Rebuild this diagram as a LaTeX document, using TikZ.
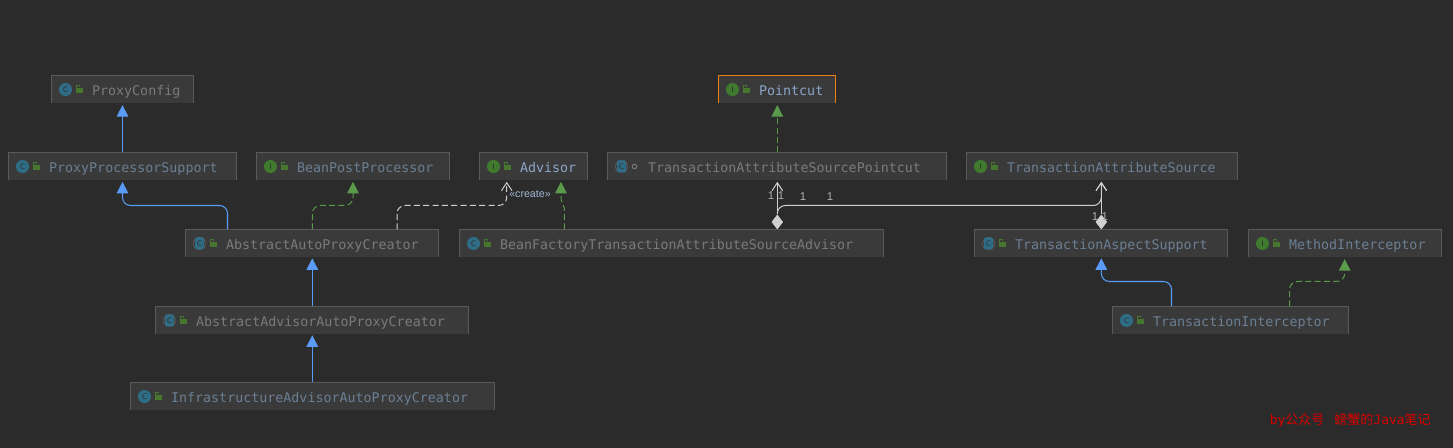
\documentclass[tikz,border=0pt]{standalone}
\usepackage{fontspec}
\setmainfont{Liberation Sans}
\setmonofont{DejaVu Sans Mono}
\newfontfamily\cjkf{Noto Sans CJK SC}
\usetikzlibrary{arrows.meta,calc,shapes.geometric}
\definecolor{bgc}{HTML}{2B2B2B}
\definecolor{boxc}{HTML}{3A3A3A}
\definecolor{edgec}{HTML}{5A5A5A}
\definecolor{blueL}{HTML}{5A9BF5}
\definecolor{greenL}{HTML}{5B9A4B}
\definecolor{whiteL}{HTML}{D0D0D0}
\definecolor{txtA}{HTML}{6B7F94}
\definecolor{txtG}{HTML}{7A7A7A}
\definecolor{txtB}{HTML}{8AA6C8}
\definecolor{clsC}{HTML}{2F6C86}
\definecolor{ifC}{HTML}{3F7A2E}
\definecolor{lockC}{HTML}{47772F}
\tikzset{
  x=0.75pt,y=-0.75pt,
  boxnode/.style={fill=boxc,inner sep=0pt,outer sep=0pt},
  boxedge/.style={draw=edgec,line width=0.75pt},
  label text/.style={inner sep=0pt,anchor=west,text height=7.6pt,text depth=2pt,font=\ttfamily\fontsize{10}{12}\selectfont},
  iconclass/.style={circle,inner sep=0pt,minimum size=9.8pt,fill=clsC,text=bgc,font=\sffamily\fontsize{6}{6}\selectfont},
  iconif/.style={circle,inner sep=0pt,minimum size=9.8pt,fill=ifC,text=bgc,font=\sffamily\fontsize{6}{6}\selectfont},
  extends/.style={draw=blueL,line width=0.8pt,rounded corners=6pt,-{Triangle[length=8.6pt,width=8.6pt]}},
  implements/.style={draw=greenL,line width=0.75pt,dash pattern=on 4.5pt off 2.5pt,rounded corners=6pt,-{Triangle[length=8.6pt,width=8.6pt,fill=greenL,sep=0pt]}},
  creates/.style={draw=whiteL,line width=0.75pt,dash pattern=on 4.5pt off 2.5pt,rounded corners=6pt,-{Straight Barb[length=6pt,width=8pt]}},
  assoc/.style={draw=whiteL,line width=0.75pt,rounded corners=6pt,-{Straight Barb[length=6pt,width=8pt]}},
  dia/.style={diamond,fill=whiteL,inner sep=0pt,minimum width=8.5pt,minimum height=11pt},
  mult/.style={text=whiteL!85!black,inner sep=0pt,font=\fontsize{8.5}{9}\selectfont},
}
\newcommand{\locksym}[1]{%
  \coordinate (#1-l) at ($(#1.west)+(27,0)$);
  \fill[lockC] ($(#1-l)+(-2.5,-1)$) rectangle ($(#1-l)+(4.2,3.8)$);
  \draw[lockC,line width=0.7pt] ($(#1-l)+(-2.5,-1)$) -- ($(#1-l)+(-2.5,-4.5)$) -- ($(#1-l)+(1,-4.5)$) -- ($(#1-l)+(1,-2)$);
}
\newcommand{\abscircle}[1]{%
  \fill[boxc!85!white] ($(#1.west)+(14,0)$) circle[radius=4.9pt];
  \fill[bgc!95!white] ($(#1.west)+(14,0)$) circle[radius=4.2pt];
  \fill[clsC,rounded corners=1pt] ($(#1.west)+(9.5,-6)$) rectangle ($(#1.west)+(18.5,6)$);
  \node[text=bgc,inner sep=0pt,font=\sffamily\fontsize{6}{6}\selectfont] (#1-i) at ($(#1.west)+(14,0)$) {C};
}
\newcommand{\iccl}[1]{\node[iconclass] (#1-i) at ($(#1.west)+(14,0)$) {C};\locksym{#1}}
\newcommand{\icif}[1]{\node[iconif] (#1-i) at ($(#1.west)+(14,0)$) {I};\locksym{#1}}
\newcommand{\icab}[1]{\abscircle{#1}\locksym{#1}}
\newcommand{\icabp}[1]{\abscircle{#1}\draw[txtG,line width=0.7pt] ($(#1.west)+(27,0)$) circle[radius=1.7pt];}
% name x1 y1 x2 y2 icon colour text
\newcommand{\ubox}[8]{%
  \pgfmathsetmacro{\bw}{(#4-#2)*0.75}\pgfmathsetmacro{\bh}{(#5-#3)*0.75}
  \node[boxnode,minimum width=\bw pt,minimum height=\bh pt] (#1) at ({(#2+#4)/2+0.5},{(#3+#5)/2+0.5}) {};
  \draw[boxedge] (#1.south west) -- (#1.north west) -- (#1.north east) -- (#1.south east);
  \csname ic#6\endcsname{#1}
  \node[label text,text=#7] (#1-t) at ($(#1.west)+(40.3,2)$) {#8};
}
\begin{document}
\begin{tikzpicture}
\fill[bgc] (0,0) rectangle (1453,448);
\useasboundingbox (0,0) rectangle (1453,448);
\ubox{pc}{51}{75}{193}{103}{cl}{txtG}{ProxyConfig}
\ubox{pps}{8}{152}{236}{180}{cl}{txtA}{ProxyProcessorSupport}
\ubox{bpp}{256}{152}{449}{180}{if}{txtA}{BeanPostProcessor}
\ubox{adv}{479}{152}{587}{180}{if}{txtB}{Advisor}
\ubox{tasp}{607}{152}{946}{180}{abp}{txtG}{TransactionAttributeSourcePointcut}
\ubox{ptc}{718}{75}{835}{103}{if}{txtB}{Pointcut}
\draw[orange!75!brown,line width=0.75pt] (ptc.south west) -- (ptc.north west) -- (ptc.north east) -- (ptc.south east);
\ubox{tas}{966}{152}{1237}{180}{if}{txtA}{TransactionAttributeSource}
\ubox{aapc}{185}{229}{438}{257}{ab}{txtG}{AbstractAutoProxyCreator}
\ubox{bftasa}{459}{229}{883}{257}{cl}{txtG}{BeanFactoryTransactionAttributeSourceAdvisor}
\ubox{tasup}{974}{229}{1227}{257}{ab}{txtA}{TransactionAspectSupport}
\ubox{mi}{1248}{229}{1441}{257}{if}{txtA}{MethodInterceptor}
\ubox{aaapc}{155}{306}{468}{334}{ab}{txtG}{AbstractAdvisorAutoProxyCreator}
\ubox{iaapc}{130}{382}{494}{410}{cl}{txtA}{InfrastructureAdvisorAutoProxyCreator}
\ubox{ti}{1112}{306}{1348}{334}{cl}{txtA}{TransactionInterceptor}
% route coordinates
\coordinate (a1) at (122.5,205.5); \coordinate (a2) at (227.5,205.5);
\coordinate (b1) at (312.3,205.5); \coordinate (b2) at (353,205.5);
\coordinate (c1) at (397,205.5);   \coordinate (c2) at (506.7,205.5);
\coordinate (d1) at (564.3,208);   \coordinate (d2) at (561,200);
\coordinate (e1) at (777.3,205.5); \coordinate (e2) at (1101.3,205.5);
\coordinate (f1) at (1101.3,281.5);\coordinate (f2) at (1171.5,281.5);
\coordinate (g1) at (1289.5,281.5);\coordinate (g2) at (1344.7,281.5);
% inheritance
\draw[extends,shorten >=1.2pt] (pps.north -| a1) -- (pc.south -| a1);
\draw[extends,shorten >=1pt] (aapc.north -| a2) -- (a2) -- (a1) -- (pps.south -| a1);
\draw[extends,shorten >=0.6pt] (aaapc.north -| b1) -- (aapc.south -| b1);
\draw[extends,shorten >=0.6pt] (iaapc.north -| b1) -- (aaapc.south -| b1);
\draw[extends,shorten >=0.6pt] (ti.north -| f2) -- (f2) -- (f1) -- (tasup.south -| f1);
% implementation
\draw[implements,shorten >=1pt] (aapc.north -| b1) -- (b1) -- (b2) -- (bpp.south -| b2);
\draw[implements,shorten >=1pt,rounded corners=0pt] (bftasa.north -| d1) -- (d1) -- (d2) -- (adv.south -| d2);
\draw[implements,shorten >=1.2pt] (tasp.north -| e1) -- (ptc.south -| e1);
\draw[implements,shorten >=1.2pt] (ti.north -| g1) -- (g1) -- (g2) -- (mi.south -| g2);
% create
\draw[creates,shorten >=1pt] (aapc.north -| c1) -- (c1) -- (c2) -- (adv.south -| c2);
\node[text=txtB!80!white,inner sep=0pt,font=\fontsize{8}{8}\selectfont] (crt) at (530,194) {«create»};
% aggregations
\node[dia] (d-a) at (777.3,222) {};
\node[dia] (d-b) at (1101.3,222) {};
\draw[assoc,shorten >=1pt] (d-a) -- (tasp.south -| d-a);
\draw[assoc,shorten >=1pt] (d-b) -- (tas.south -| d-b);
\draw[assoc,shorten >=1pt] (d-a.north) -- (e1) -- (e2) -- (tas.south -| e2);
\node[dia] at (d-a) {};
\node[dia] at (d-b) {};
\node[mult] (m1) at (771,195.5) {1};
\node[mult] (m2) at (781,195.5) {1};
\node[mult] (m3) at (803,197) {1};
\node[mult] (m4) at (830,197) {1};
\node[mult] (m5) at (1095,217) {1};
\node[mult] (m6) at (1104.7,217) {1};
\node[text=red!85!black,inner sep=0pt,anchor=east,font=\ttfamily\fontsize{9.75}{12}\selectfont] (wm) at (1431,420) {by{\cjkf 公众号}\hspace{7.5pt}{\cjkf 螃蟹的}Java{\cjkf 笔记}};
\end{tikzpicture}
\end{document}
